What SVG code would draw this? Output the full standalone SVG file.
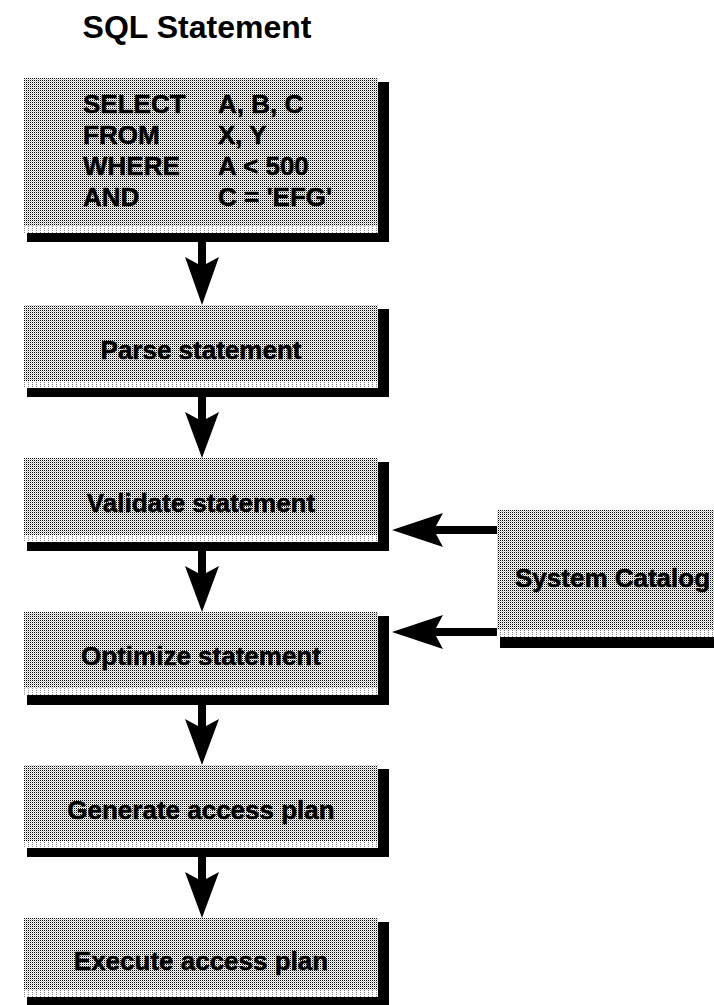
<svg xmlns="http://www.w3.org/2000/svg" width="714" height="1005" viewBox="0 0 714 1005">
  <defs>
    <!-- dithered halftone grey used for every box face -->
    <pattern id="dither" width="2" height="2" patternUnits="userSpaceOnUse">
      <rect width="2" height="2" fill="#ffffff"/>
      <rect width="1" height="1" fill="#000000"/>
      <rect x="1" y="1" width="1" height="1" fill="#c0c0c0"/>
    </pattern>
    <pattern id="dither-light" width="4" height="2" patternUnits="userSpaceOnUse">
      <rect width="4" height="2" fill="#ffffff"/>
      <rect width="1" height="1" fill="#8a8a8a"/>
    </pattern>
  </defs>
  <style>
    .face { fill: url(#dither); }
    .lip { fill: url(#dither-light); }
    .shadow { fill: #000000; }
    .label { font-family: "Liberation Sans", Arial, sans-serif; font-weight: bold; font-size: 26px; fill: #000000; stroke: #000000; stroke-width: 0.5px; }
    .title { font-family: "Liberation Sans", Arial, sans-serif; font-weight: bold; font-size: 32px; fill: #000000; }
    .arrow { fill: #000000; }
  </style>

  <rect width="714" height="1005" fill="#ffffff"/>

  <text class="title" x="197" y="38" text-anchor="middle">SQL Statement</text>

  <!-- statement box -->
  <g id="sql">
    <rect class="shadow" x="27" y="82" width="362" height="160"/>
    <rect class="face" x="24" y="78" width="354" height="155"/>
    <rect class="lip" x="24" y="226" width="354" height="7"/>
    <text class="label" x="83" y="113">SELECT</text>
    <text class="label" x="218" y="113">A, B, C</text>
    <text class="label" x="83" y="144">FROM</text>
    <text class="label" x="218" y="144">X, Y</text>
    <text class="label" x="83" y="175">WHERE</text>
    <text class="label" x="218" y="175">A &lt; 500</text>
    <text class="label" x="83" y="206">AND</text>
    <text class="label" x="218" y="206">C = 'EFG'</text>
  </g>

  <g id="parse">
    <rect class="shadow" x="27" y="309" width="362" height="88"/>
    <rect class="face" x="24" y="305" width="354" height="83"/>
    <rect class="lip" x="24" y="381" width="354" height="7"/>
    <text class="label" x="201" y="359" text-anchor="middle">Parse statement</text>
  </g>

  <g id="validate">
    <rect class="shadow" x="27" y="462" width="362" height="89"/>
    <rect class="face" x="24" y="458" width="354" height="84"/>
    <rect class="lip" x="24" y="535" width="354" height="7"/>
    <text class="label" x="201" y="512" text-anchor="middle">Validate statement</text>
  </g>

  <g id="optimize">
    <rect class="shadow" x="27" y="616" width="362" height="89"/>
    <rect class="face" x="24" y="612" width="354" height="83"/>
    <rect class="lip" x="24" y="688" width="354" height="7"/>
    <text class="label" x="201" y="665" text-anchor="middle">Optimize statement</text>
  </g>

  <g id="generate">
    <rect class="shadow" x="27" y="769" width="362" height="88"/>
    <rect class="face" x="24" y="765" width="354" height="83"/>
    <rect class="lip" x="24" y="841" width="354" height="7"/>
    <text class="label" x="201" y="819" text-anchor="middle">Generate access plan</text>
  </g>

  <g id="execute">
    <rect class="shadow" x="27" y="922" width="362" height="88"/>
    <rect class="face" x="24" y="918" width="354" height="79"/>
    <rect class="lip" x="24" y="990" width="354" height="7"/>
    <text class="label" x="201" y="970" text-anchor="middle">Execute access plan</text>
  </g>

  <g id="catalog">
    <rect class="shadow" x="500" y="514" width="230" height="134"/>
    <rect class="face" x="497" y="510" width="230" height="127"/>
    <rect class="lip" x="497" y="630" width="230" height="7"/>
    <text class="label" x="515" y="587">System Catalog</text>
  </g>

  <!-- flow arrows: shaft plus barbed head -->
  <g id="connectors">
    <polygon class="arrow" points="198,242 206,242 206,264 219,257 202,305 185,257 198,264"/>
    <polygon class="arrow" points="198,397 206,397 206,419 219,412 202,458 185,412 198,419"/>
    <polygon class="arrow" points="198,551 206,551 206,573 219,566 202,612 185,566 198,573"/>
    <polygon class="arrow" points="198,705 206,705 206,726 219,719 202,765 185,719 198,726"/>
    <polygon class="arrow" points="198,857 206,857 206,879 219,872 202,918 185,872 198,879"/>
    <polygon class="arrow" points="497,526 497,534 436,534 443,547 392,530 443,513 436,526"/>
    <polygon class="arrow" points="497,628 497,636 436,636 443,649 392,632 443,615 436,628"/>
  </g>
</svg>
